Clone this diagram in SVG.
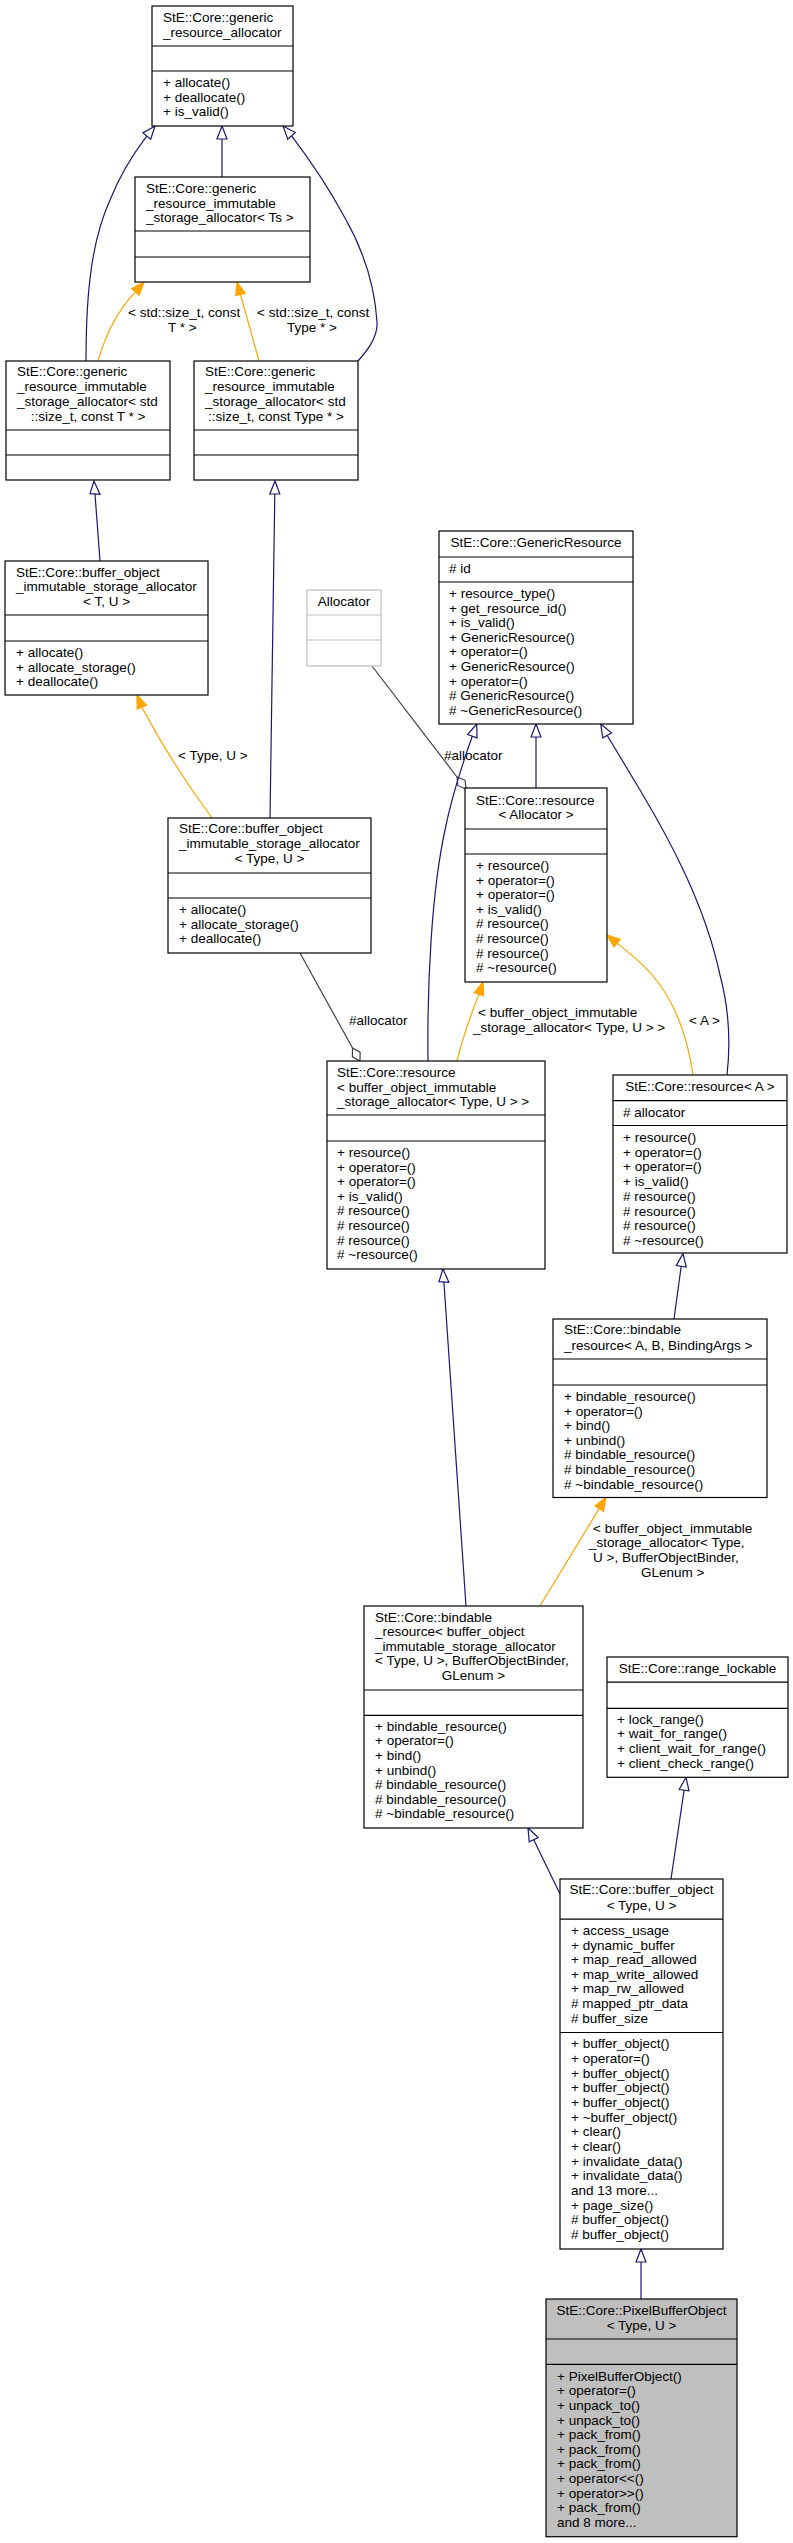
<svg xmlns="http://www.w3.org/2000/svg" width="793" height="2543" viewBox="0 0 793 2543">
<style>
text{font-family:"Liberation Sans",Arial,Helvetica,sans-serif;font-size:13.5px;fill:#000}
.m{text-anchor:middle}
.node rect{fill:#fff;stroke:#000;stroke-width:1.2}
.node line{stroke:#000;stroke-width:1.2}
.grey rect,.grey line{stroke:#bfbfbf}
.cur rect{fill:#bfbfbf}
.inh{fill:none;stroke:#191970;stroke-width:1.2}
.inha{fill:#fff;stroke:#191970;stroke-width:1.2}
.tpl{fill:none;stroke:#ffa500;stroke-width:1.2}
.tpla{fill:#ffa500;stroke:#ffa500;stroke-width:1.2}
.use{fill:none;stroke:#404040;stroke-width:1.2}
.usea{fill:#fff;stroke:#404040;stroke-width:1.2}
</style>
<rect width="793" height="2543" fill="#fff"/>
<g id="edges">
<path class="inh" d="M222,177 L222,139"/><polygon class="inha" points="222,126 217,139 227,139"/>
<path class="inh" d="M86,361 C86,290 92,240 110,200 C120,175 133,154 146.8,136.1"/><polygon class="inha" points="155,126 150.7,139.3 142.9,132.9"/>
<path class="inh" d="M358,361 C366,352 378,338 377,322 C375,290 366,255 345,218 C330,190 310,160 291.6,135.8"/><polygon class="inha" points="283,126 295.3,132.5 287.8,139.1"/>
<path class="tpl" d="M98,361 C104,340 116,312 135.4,291.8"/><polygon class="tpla" points="144,282 139.2,295.1 131.7,288.5"/>
<text x="128" y="317">&lt; std::size_t, const</text><text x="168" y="332">T * &gt;</text>
<path class="tpl" d="M259,361 L240.5,294.5"/><polygon class="tpla" points="237,282 245.3,293.2 235.7,295.8"/>
<text x="257" y="317">&lt; std::size_t, const</text><text x="287" y="332">Type * &gt;</text>
<path class="inh" d="M100,561 L95,494"/><polygon class="inha" points="94,481 100,494.4 90,493.6"/>
<path class="inh" d="M270,818 L274.8,494"/><polygon class="inha" points="275,481 279.8,494 269.8,494"/>
<path class="tpl" d="M212,818 C195,795 170,760 141.8,707.1"/><polygon class="tpla" points="137,695 146.5,705.3 137.2,709"/>
<text x="178" y="760">&lt; Type, U &gt;</text>
<path class="use" d="M372,666 L457,777"/><polygon class="usea" points="466,789 465.1,780.3 457,777 457.9,785.7"/>
<text x="444" y="760">#allocator</text>
<path class="use" d="M300,953 L352.5,1048"/><polygon class="usea" points="360,1061 360.1,1052.2 352.5,1048 352.4,1056.8"/>
<text x="349" y="1025">#allocator</text>
<path class="inh" d="M536,788 L536,737"/><polygon class="inha" points="536,724 531,737 541,737"/>
<path class="inh" d="M428,1061 C427,980 432,890 445,830 C452,795 462,765 472.3,736.2"/><polygon class="inha" points="476.7,724 477,737.9 467.6,734.5"/>
<path class="inh" d="M727,1075 C731,1040 728,1005 720,975 C705,905 670,840 640,790 C628,770 617,752 607.1,735.3"/><polygon class="inha" points="600.7,724 611.5,732.9 602.8,737.8"/>
<path class="tpl" d="M457,1061 C462,1040 470,1017 478.9,994.4"/><polygon class="tpla" points="483,982 483.7,995.9 474.2,992.8"/>
<text x="478" y="1017">&lt; buffer_object_immutable</text><text x="473" y="1031.6">_storage_allocator&lt; Type, U &gt; &gt;</text>
<path class="tpl" d="M693,1075 C688,1040 678,1010 660,985 C648,968 632,955 617.1,943.1"/><polygon class="tpla" points="607,935 620.2,939.2 614,947"/>
<text x="689" y="1025">&lt; A &gt;</text>
<path class="inh" d="M674,1319 L681.2,1266.3"/><polygon class="inha" points="683,1253.4 686.2,1267 676.3,1265.6"/>
<path class="inh" d="M466,1606 L443.9,1282"/><polygon class="inha" points="443,1269 448.9,1282.3 438.9,1281.7"/>
<path class="tpl" d="M540,1606 L599.2,1508.6"/><polygon class="tpla" points="606,1497.5 603.5,1511.2 595,1506"/>
<text x="593" y="1532.5">&lt; buffer_object_immutable</text><text x="589" y="1547.4">_storage_allocator&lt; Type,</text><text x="593" y="1562.4">U &gt;, BufferObjectBinder,</text><text x="641" y="1577">GLenum &gt;</text>
<path class="inh" d="M560,1894 L533.7,1839.7"/><polygon class="inha" points="528,1828 538.2,1837.5 529.2,1841.9"/>
<path class="inh" d="M671,1879 L684.1,1790.2"/><polygon class="inha" points="686,1777.3 689,1790.9 679.2,1789.5"/>
<path class="inh" d="M641,2299 L641,2262"/><polygon class="inha" points="641,2249 636,2262 646,2262"/>
</g>
<g id="n_generic_resource_allocator" class="node">
<rect x="152" y="6" width="141" height="120"/><line x1="152" y1="46" x2="293" y2="46"/><line x1="152" y1="71" x2="293" y2="71"/>
<text x="163" y="21.8">StE::Core::generic</text><text x="163" y="36.6">_resource_allocator</text>
<text x="163" y="87">+ allocate()</text><text x="163" y="101.7">+ deallocate()</text><text x="163" y="116.4">+ is_valid()</text>
</g>
<g id="n_generic_immutable_Ts" class="node">
<rect x="135" y="177" width="175" height="105"/><line x1="135" y1="231" x2="310" y2="231"/><line x1="135" y1="257" x2="310" y2="257"/>
<text x="146" y="193.3">StE::Core::generic</text><text x="146" y="207.7">_resource_immutable</text><text x="146" y="222.3">_storage_allocator&lt; Ts &gt;</text>
</g>
<g id="n_generic_immutable_T" class="node">
<rect x="6" y="361" width="164" height="119"/><line x1="6" y1="430" x2="170" y2="430"/><line x1="6" y1="455" x2="170" y2="455"/>
<text x="17" y="376">StE::Core::generic</text><text x="17" y="391">_resource_immutable</text><text x="17" y="406">_storage_allocator&lt; std</text><text class="m" x="88" y="421">::size_t, const T * &gt;</text>
</g>
<g id="n_generic_immutable_Type" class="node">
<rect x="194" y="361" width="164" height="119"/><line x1="194" y1="430" x2="358" y2="430"/><line x1="194" y1="455" x2="358" y2="455"/>
<text x="205" y="376">StE::Core::generic</text><text x="205" y="391">_resource_immutable</text><text x="205" y="406">_storage_allocator&lt; std</text><text class="m" x="276" y="421">::size_t, const Type * &gt;</text>
</g>
<g id="n_bo_alloc_TU" class="node">
<rect x="5" y="561" width="203" height="134"/><line x1="5" y1="615" x2="208" y2="615"/><line x1="5" y1="641" x2="208" y2="641"/>
<text x="16" y="577">StE::Core::buffer_object</text><text x="16" y="591.3">_immutable_storage_allocator</text><text class="m" x="106.5" y="606">&lt; T, U &gt;</text>
<text x="16" y="657">+ allocate()</text><text x="16" y="671.5">+ allocate_storage()</text><text x="16" y="686">+ deallocate()</text>
</g>
<g id="n_allocator" class="node grey">
<rect x="307" y="590" width="74" height="76"/><line x1="307" y1="615" x2="381" y2="615"/><line x1="307" y1="640" x2="381" y2="640"/>
<text class="m" x="344" y="606">Allocator</text>
</g>
<g id="n_bo_alloc_TypeU" class="node">
<rect x="168" y="818" width="203" height="135"/><line x1="168" y1="873" x2="371" y2="873"/><line x1="168" y1="898" x2="371" y2="898"/>
<text x="179" y="833">StE::Core::buffer_object</text><text x="179" y="848">_immutable_storage_allocator</text><text class="m" x="269.5" y="863">&lt; Type, U &gt;</text>
<text x="179" y="914">+ allocate()</text><text x="179" y="928.6">+ allocate_storage()</text><text x="179" y="943.2">+ deallocate()</text>
</g>
<g id="n_generic_resource" class="node">
<rect x="439" y="531" width="194" height="193"/><line x1="439" y1="557" x2="633" y2="557"/><line x1="439" y1="582" x2="633" y2="582"/>
<text class="m" x="536" y="547">StE::Core::GenericResource</text>
<text x="449" y="573">#&#160;id</text>
<text x="449" y="598">+ resource_type()</text><text x="449" y="612.6">+ get_resource_id()</text><text x="449" y="627.2">+ is_valid()</text><text x="449" y="641.8">+ GenericResource()</text><text x="449" y="656.4">+ operator=()</text><text x="449" y="671">+ GenericResource()</text><text x="449" y="685.6">+ operator=()</text><text x="449" y="700.2"># GenericResource()</text><text x="449" y="714.8"># ~GenericResource()</text>
</g>
<g id="n_resource_Allocator" class="node">
<rect x="465" y="788" width="142" height="194"/><line x1="465" y1="829" x2="607" y2="829"/><line x1="465" y1="854" x2="607" y2="854"/>
<text x="476" y="805">StE::Core::resource</text><text class="m" x="536" y="819">&lt; Allocator &gt;</text>
<text x="476" y="870">+ resource()</text><text x="476" y="884.6">+ operator=()</text><text x="476" y="899.2">+ operator=()</text><text x="476" y="913.8">+ is_valid()</text><text x="476" y="928.4"># resource()</text><text x="476" y="943"># resource()</text><text x="476" y="957.6"># resource()</text><text x="476" y="972.2"># ~resource()</text>
</g>
<g id="n_resource_bo" class="node">
<rect x="327" y="1061" width="218" height="208"/><line x1="327" y1="1115" x2="545" y2="1115"/><line x1="327" y1="1141" x2="545" y2="1141"/>
<text x="337" y="1077">StE::Core::resource</text><text x="337" y="1091.5">&lt; buffer_object_immutable</text><text x="337" y="1106">_storage_allocator&lt; Type, U &gt; &gt;</text>
<text x="337" y="1157">+ resource()</text><text x="337" y="1171.6">+ operator=()</text><text x="337" y="1186.2">+ operator=()</text><text x="337" y="1200.8">+ is_valid()</text><text x="337" y="1215.4"># resource()</text><text x="337" y="1230"># resource()</text><text x="337" y="1244.6"># resource()</text><text x="337" y="1259.2"># ~resource()</text>
</g>
<g id="n_resource_A" class="node">
<rect x="613" y="1075" width="174" height="178"/><line x1="613" y1="1100.6" x2="787" y2="1100.6"/><line x1="613" y1="1125.5" x2="787" y2="1125.5"/>
<text class="m" x="700" y="1091">StE::Core::resource&lt; A &gt;</text>
<text x="623" y="1116.5"># allocator</text>
<text x="623" y="1142">+ resource()</text><text x="623" y="1156.7">+ operator=()</text><text x="623" y="1171.4">+ operator=()</text><text x="623" y="1186.1">+ is_valid()</text><text x="623" y="1200.8"># resource()</text><text x="623" y="1215.5"># resource()</text><text x="623" y="1230.2"># resource()</text><text x="623" y="1244.9"># ~resource()</text>
</g>
<g id="n_bindable_ABB" class="node">
<rect x="553" y="1319" width="214" height="178.5"/><line x1="553" y1="1359" x2="767" y2="1359"/><line x1="553" y1="1385" x2="767" y2="1385"/>
<text x="564" y="1334">StE::Core::bindable</text><text x="564" y="1349.6">_resource&lt; A, B, BindingArgs &gt;</text>
<text x="564" y="1401">+ bindable_resource()</text><text x="564" y="1415.6">+ operator=()</text><text x="564" y="1430.2">+ bind()</text><text x="564" y="1444.8">+ unbind()</text><text x="564" y="1459.4"># bindable_resource()</text><text x="564" y="1474"># bindable_resource()</text><text x="564" y="1488.6"># ~bindable_resource()</text>
</g>
<g id="n_bindable_bo" class="node">
<rect x="364" y="1606" width="219" height="222"/><line x1="364" y1="1690" x2="583" y2="1690"/><line x1="364" y1="1715.3" x2="583" y2="1715.3"/>
<text x="375" y="1621.5">StE::Core::bindable</text><text x="375" y="1636.1">_resource&lt; buffer_object</text><text x="375" y="1650.7">_immutable_storage_allocator</text><text x="375" y="1665.3">&lt; Type, U &gt;, BufferObjectBinder,</text><text class="m" x="473.5" y="1679.9">GLenum &gt;</text>
<text x="375" y="1730.7">+ bindable_resource()</text><text x="375" y="1745.3">+ operator=()</text><text x="375" y="1759.9">+ bind()</text><text x="375" y="1774.5">+ unbind()</text><text x="375" y="1789.1"># bindable_resource()</text><text x="375" y="1803.7"># bindable_resource()</text><text x="375" y="1818.3"># ~bindable_resource()</text>
</g>
<g id="n_range_lockable" class="node">
<rect x="607" y="1657" width="181" height="120.3"/><line x1="607" y1="1682.2" x2="788" y2="1682.2"/><line x1="607" y1="1708.4" x2="788" y2="1708.4"/>
<text class="m" x="697.5" y="1672.5">StE::Core::range_lockable</text>
<text x="617" y="1723.8">+ lock_range()</text><text x="617" y="1738.4">+ wait_for_range()</text><text x="617" y="1753">+ client_wait_for_range()</text><text x="617" y="1767.6">+ client_check_range()</text>
</g>
<g id="n_buffer_object" class="node">
<rect x="560" y="1879" width="163" height="370"/><line x1="560" y1="1919.1" x2="723" y2="1919.1"/><line x1="560" y1="2032.5" x2="723" y2="2032.5"/>
<text class="m" x="641.5" y="1894.2">StE::Core::buffer_object</text><text class="m" x="641.5" y="1909.7">&lt; Type, U &gt;</text>
<text x="571" y="1934.9">+ access_usage</text><text x="571" y="1949.5">+ dynamic_buffer</text><text x="571" y="1964.1">+ map_read_allowed</text><text x="571" y="1978.7">+ map_write_allowed</text><text x="571" y="1993.3">+ map_rw_allowed</text><text x="571" y="2007.9"># mapped_ptr_data</text><text x="571" y="2022.5"># buffer_size</text>
<text x="571" y="2048.3">+ buffer_object()</text><text x="571" y="2063">+ operator=()</text><text x="571" y="2077.6">+ buffer_object()</text><text x="571" y="2092.3">+ buffer_object()</text><text x="571" y="2106.9">+ buffer_object()</text><text x="571" y="2121.6">+ ~buffer_object()</text><text x="571" y="2136.2">+ clear()</text><text x="571" y="2150.9">+ clear()</text><text x="571" y="2165.5">+ invalidate_data()</text><text x="571" y="2180.2">+ invalidate_data()</text><text x="571" y="2194.8">and 13 more...</text><text x="571" y="2209.5">+ page_size()</text><text x="571" y="2224.1"># buffer_object()</text><text x="571" y="2238.8"># buffer_object()</text>
</g>
<g id="n_pixel_buffer_object" class="node cur">
<rect x="546" y="2299" width="191" height="237.7"/><line x1="546" y1="2339" x2="737" y2="2339"/><line x1="546" y1="2364.3" x2="737" y2="2364.3"/>
<text class="m" x="641.5" y="2314.7">StE::Core::PixelBufferObject</text><text class="m" x="641.5" y="2329.7">&lt; Type, U &gt;</text>
<text x="557" y="2380.7">+ PixelBufferObject()</text><text x="557" y="2395.3">+ operator=()</text><text x="557" y="2409.9">+ unpack_to()</text><text x="557" y="2424.5">+ unpack_to()</text><text x="557" y="2439.1">+ pack_from()</text><text x="557" y="2453.7">+ pack_from()</text><text x="557" y="2468.3">+ pack_from()</text><text x="557" y="2482.9">+ operator&lt;&lt;()</text><text x="557" y="2497.5">+ operator&gt;&gt;()</text><text x="557" y="2512.1">+ pack_from()</text><text x="557" y="2526.7">and 8 more...</text>
</g>
</svg>
